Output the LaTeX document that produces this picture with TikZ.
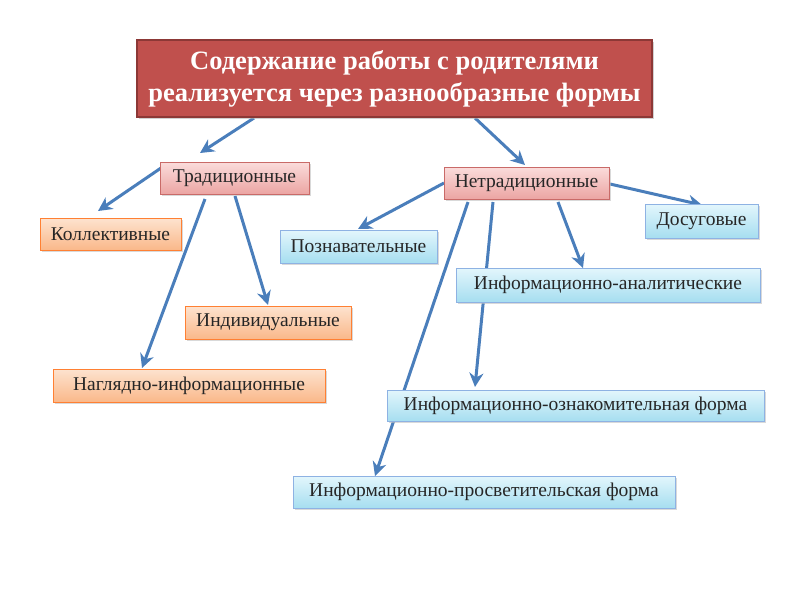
\documentclass[tikz,border=0pt]{standalone}
\usepackage{fontspec}
\setmainfont{Liberation Serif}
\usetikzlibrary{arrows.meta,shadows}
\definecolor{mainfill}{HTML}{C0504D}
\definecolor{mainborder}{HTML}{8C3836}
\definecolor{arrowblue}{HTML}{4A7EBB}
\definecolor{pinktop}{HTML}{FBDCDB}
\definecolor{pinkbot}{HTML}{EBA5A3}
\definecolor{orangetop}{HTML}{FDE3CF}
\definecolor{orangebot}{HTML}{FAB88A}
\definecolor{bluetop}{HTML}{E3F6FC}
\definecolor{bluebot}{HTML}{A6DEF0}
\tikzset{
  box/.style={rectangle, inner sep=0pt, font=\fontsize{19.5}{22}\selectfont, text=black!85,
    drop shadow={shadow xshift=1.5pt, shadow yshift=-1.5pt, fill=black!25, opacity=0.6}},
  pinkbox/.style={box, draw=mainfill!85, line width=0.8pt, top color=pinktop, bottom color=pinkbot},
  orangebox/.style={box, draw=orange!75!red!80, line width=0.8pt, top color=orangetop, bottom color=orangebot},
  bluebox/.style={box, draw=cyan!55!blue!45, line width=0.8pt, top color=bluetop, bottom color=bluebot},
  mainbox/.style={rectangle, inner sep=0pt, draw=mainborder, line width=1.2pt, fill=mainfill,
    text=white, font=\bfseries\fontsize{26.5}{32}\selectfont, align=center,
    drop shadow={shadow xshift=2pt, shadow yshift=-2pt, fill=black!30, opacity=0.6}},
  conn/.style={draw=arrowblue, line width=3pt, -{Stealth[length=14pt,width=14pt,inset=4.5pt]}}
}
\begin{document}
\begin{tikzpicture}[x=1pt,y=-1pt]
\useasboundingbox (0,0) rectangle (800,600);
% arrow end points
\coordinate (m1s) at (254,118); \coordinate (m1e) at (200,153);
\coordinate (m2s) at (475,118); \coordinate (m2e) at (525,165);
\coordinate (t1s) at (161,168); \coordinate (t1e) at (98,211);
\coordinate (t2s) at (205,199); \coordinate (t2e) at (142,368);
\coordinate (t3s) at (235,196); \coordinate (t3e) at (268,305);
\coordinate (n1s) at (444,183); \coordinate (n1e) at (358,229);
\coordinate (n2s) at (610,184); \coordinate (n2e) at (702,205);
\coordinate (n3s) at (558,202); \coordinate (n3e) at (583,268);
\coordinate (n4s) at (493,202); \coordinate (n4e) at (475,387);
\coordinate (n5s) at (468,202); \coordinate (n5e) at (375,476);
% connectors
\draw[conn] (m1s) -- (m1e);
\draw[conn] (m2s) -- (m2e);
\draw[conn] (t1s) -- (t1e);
\draw[conn] (t2s) -- (t2e);
\draw[conn] (t3s) -- (t3e);
\draw[conn] (n1s) -- (n1e);
\draw[conn] (n2s) -- (n2e);
\draw[conn] (n3s) -- (n3e);
\draw[conn] (n4s) -- (n4e);
\draw[conn] (n5s) -- (n5e);
% boxes
\node[mainbox, minimum width=515pt, minimum height=77pt] (main) at (394.5,78.5)
  {Содержание работы с родителями\\реализуется через разнообразные формы};
\node[pinkbox, minimum width=149pt, minimum height=32pt] (trad) at (234.5,178) {Традиционные};
\node[pinkbox, minimum width=165pt, minimum height=32pt] (netrad) at (526.5,183) {Нетрадиционные};
\node[orangebox, minimum width=141pt, minimum height=32pt] (koll) at (110.5,234) {Коллективные};
\node[orangebox, minimum width=166pt, minimum height=33pt] (indiv) at (268,322.5) {Индивидуальные};
\node[orangebox, minimum width=272pt, minimum height=33pt] (nagl) at (189,385.5) {Наглядно-информационные};
\node[bluebox, minimum width=157pt, minimum height=33pt] (pozn) at (358.5,246.5) {Познавательные};
\node[bluebox, minimum width=113pt, minimum height=34pt] (dosug) at (701.5,221) {Досуговые};
\node[bluebox, minimum width=304pt, minimum height=34pt] (analit) at (608,285) {Информационно-аналитические};
\node[bluebox, minimum width=377pt, minimum height=31pt] (oznak) at (575.5,405.5) {Информационно-ознакомительная форма};
\node[bluebox, minimum width=382pt, minimum height=32pt] (prosv) at (484,492) {Информационно-просветительская форма};
\end{tikzpicture}
\end{document}
